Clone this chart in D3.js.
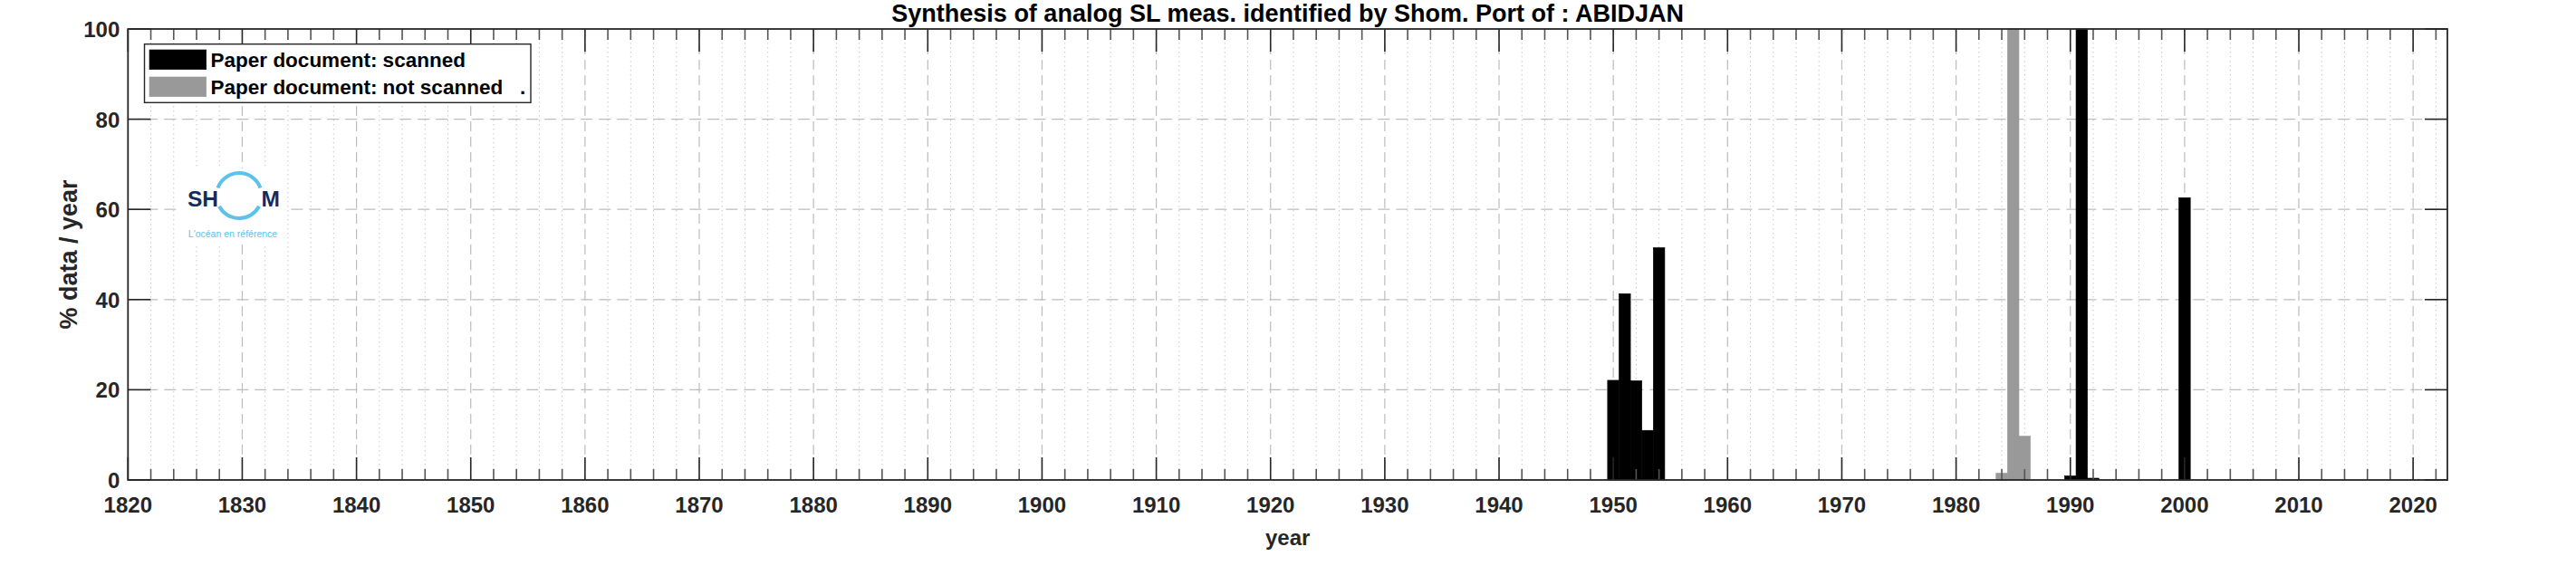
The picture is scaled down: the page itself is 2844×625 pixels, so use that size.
<!DOCTYPE html>
<html>
<head>
<meta charset="utf-8">
<script src="https://cdn.jsdelivr.net/npm/d3@7"></script>
<style>
  html, body { margin: 0; padding: 0; background: #fff; }
  svg { display: block; font-family: "Liberation Sans", Arial, Helvetica, sans-serif; }
</style>
</head>
<body>
<svg id="chart" width="2844" height="625"></svg>
<script>
// ---------------- data ----------------
const titleText = "Synthesis of analog SL meas. identified by Shom. Port of : ABIDJAN";
const xLabel = "year";
const yLabel = "% data / year";
const seriesNames = ["Paper document: scanned", "Paper document: not scanned   ."];
const seriesColors = ["#000000", "#999999"];

const scannedYears  = [1950, 1951, 1952, 1953, 1954, 1990, 1991, 1992, 2000];
const scannedValues = [22.1, 41.3, 22.0, 11.0, 51.5, 0.9, 100, 0.4, 62.6];

const notScannedYears  = [1984, 1985, 1986];
const notScannedValues = [1.5, 100, 9.7];

const xDomain = [1820, 2023];
const yDomain = [0, 100];
const xMajorTicks = [1820, 1830, 1840, 1850, 1860, 1870, 1880, 1890, 1900, 1910, 1920, 1930, 1940, 1950, 1960, 1970, 1980, 1990, 2000, 2010, 2020];
const xMinorTicks = d3.range(1822, 2023, 2).filter(v => v % 10 !== 0);
const yTicks = [0, 20, 40, 60, 80, 100];

const logoWord = ["SH", "M"];
const logoTagline = "L'océan en référence";

// ---------------- layout ----------------
const W = 2844, H = 625;
const L = 141.3, R = 2702, T = 32, B = 530;
const axisColor = "#262626";
const gridColor = "#bdbdbd";
const fontFamily = '"Liberation Sans", Arial, Helvetica, sans-serif';

const svg = d3.select("#chart");
const x = d3.scaleLinear().domain(xDomain).range([L, R]);
const y = d3.scaleLinear().domain(yDomain).range([B, T]);

svg.append("rect").attr("x", 0).attr("y", 0).attr("width", W).attr("height", H).attr("fill", "#fff");

// ---------------- grid ----------------
const grid = svg.append("g");
grid.selectAll("line.minor").data(xMinorTicks).join("line")
  .attr("x1", d => x(d)).attr("x2", d => x(d))
  .attr("y1", T).attr("y2", B)
  .attr("stroke", "#c8c8c8").attr("stroke-width", 1)
  .attr("stroke-dasharray", "1.5,3.5");
grid.selectAll("line.majx").data(xMajorTicks.filter(d => d > xDomain[0])).join("line")
  .attr("x1", d => x(d)).attr("x2", d => x(d))
  .attr("y1", T).attr("y2", B)
  .attr("stroke", gridColor).attr("stroke-width", 1.2)
  .attr("stroke-dasharray", "11,6");
grid.selectAll("line.majy").data(yTicks.filter(d => d > 0 && d < 100)).join("line")
  .attr("x1", L).attr("x2", R)
  .attr("y1", d => y(d)).attr("y2", d => y(d))
  .attr("stroke", gridColor).attr("stroke-width", 1.2)
  .attr("stroke-dasharray", "13,7");

// ---------------- bars ----------------
function drawBars(years, values, color) {
  const data = years.map((yr, i) => ({ yr, v: values[i] }));
  svg.append("g").selectAll("rect").data(data).join("rect")
    .attr("x", d => x(d.yr - 0.5))
    .attr("width", d => x(d.yr + 0.5) - x(d.yr - 0.5))
    .attr("y", d => y(d.v))
    .attr("height", d => y(0) - y(d.v))
    .attr("fill", color)
    .attr("stroke", color).attr("stroke-width", 0.6);
}
drawBars(notScannedYears, notScannedValues, seriesColors[1]);
drawBars(scannedYears, scannedValues, seriesColors[0]);

// ---------------- logo ----------------
const logo = svg.append("g");
logo.append("rect").attr("x", 200).attr("y", 186).attr("width", 114).attr("height", 84).attr("fill", "#fff");
const cx = 264, cy = 216, r = 25;
function arcPath(a0, a1) {
  const p = d3.path();
  p.arc(cx, cy, r, a0 * Math.PI / 180, a1 * Math.PI / 180, false);
  return p.toString();
}
logo.append("path").attr("d", arcPath(200, 340)).attr("fill", "none").attr("stroke", "#5cc2ea").attr("stroke-width", 4);
logo.append("path").attr("d", arcPath(28, 152)).attr("fill", "none").attr("stroke", "#5cc2ea").attr("stroke-width", 4);
logo.append("text").attr("x", 207).attr("y", 227.5).text(logoWord[0])
  .attr("font-family", fontFamily).attr("font-weight", "bold").attr("font-size", 24.5).attr("fill", "#102d5e");
logo.append("text").attr("x", 288.5).attr("y", 227.5).text(logoWord[1])
  .attr("font-family", fontFamily).attr("font-weight", "bold").attr("font-size", 24.5).attr("fill", "#102d5e");
logo.append("text").attr("x", 257).attr("y", 262).attr("text-anchor", "middle").text(logoTagline)
  .attr("font-family", fontFamily).attr("font-size", 10.5).attr("fill", "#5cc2ea");

// ---------------- axes box & ticks ----------------
const ax = svg.append("g").attr("stroke", axisColor).attr("stroke-width", 1.6);
ax.selectAll("line.mb").data(xMinorTicks).join("line")
  .attr("x1", d => x(d)).attr("x2", d => x(d)).attr("y1", B).attr("y2", B - 12)
  .attr("stroke", "#555");
ax.selectAll("line.mt").data(xMinorTicks).join("line")
  .attr("x1", d => x(d)).attr("x2", d => x(d)).attr("y1", T).attr("y2", T + 12)
  .attr("stroke", "#555");
ax.selectAll("line.Mb").data(xMajorTicks).join("line")
  .attr("x1", d => x(d)).attr("x2", d => x(d)).attr("y1", B).attr("y2", B - 25);
ax.selectAll("line.Mt").data(xMajorTicks).join("line")
  .attr("x1", d => x(d)).attr("x2", d => x(d)).attr("y1", T).attr("y2", T + 25);
ax.selectAll("line.yl").data(yTicks).join("line")
  .attr("x1", L).attr("x2", L + 25).attr("y1", d => y(d)).attr("y2", d => y(d));
ax.selectAll("line.yr").data(yTicks).join("line")
  .attr("x1", R).attr("x2", R - 25).attr("y1", d => y(d)).attr("y2", d => y(d));
svg.append("rect").attr("x", L).attr("y", T).attr("width", R - L).attr("height", B - T)
  .attr("fill", "none").attr("stroke", axisColor).attr("stroke-width", 1.8);

// tick labels
svg.append("g").selectAll("text").data(xMajorTicks).join("text")
  .attr("x", d => x(d)).attr("y", 566)
  .attr("text-anchor", "middle")
  .attr("font-family", fontFamily).attr("font-weight", "bold").attr("font-size", 24)
  .attr("fill", axisColor)
  .text(d => d);
svg.append("g").selectAll("text").data(yTicks).join("text")
  .attr("x", L - 9).attr("y", d => y(d) + 9)
  .attr("text-anchor", "end")
  .attr("font-family", fontFamily).attr("font-weight", "bold").attr("font-size", 24)
  .attr("fill", axisColor)
  .text(d => d);

// axis labels
svg.append("text").attr("x", (L + R) / 2).attr("y", 602)
  .attr("text-anchor", "middle")
  .attr("font-family", fontFamily).attr("font-weight", "bold").attr("font-size", 24)
  .attr("fill", axisColor).text(xLabel);
svg.append("text").attr("transform", `translate(85, ${(T + B) / 2}) rotate(-90)`)
  .attr("text-anchor", "middle")
  .attr("font-family", fontFamily).attr("font-weight", "bold").attr("font-size", 27)
  .attr("fill", axisColor).text(yLabel);

// title
svg.append("text").attr("x", (L + R) / 2).attr("y", 24)
  .attr("text-anchor", "middle")
  .attr("font-family", fontFamily).attr("font-weight", "bold").attr("font-size", 27)
  .attr("fill", "#000").text(titleText);

// ---------------- legend ----------------
const lg = svg.append("g");
lg.append("rect").attr("x", 159.5).attr("y", 48.7).attr("width", 426.5).attr("height", 64.6)
  .attr("fill", "#fff").attr("stroke", axisColor).attr("stroke-width", 1.4);
seriesNames.forEach((name, i) => {
  const yy = 55 + i * 30;
  lg.append("rect").attr("x", 165).attr("y", yy).attr("width", 62.7).attr("height", 21.7)
    .attr("fill", seriesColors[i]).attr("stroke", i === 0 ? "#000" : "#999").attr("stroke-width", 0.6);
  lg.append("text").attr("x", 232.6).attr("y", yy + 19)
    .attr("font-family", fontFamily).attr("font-weight", "bold").attr("font-size", 22.5)
    .attr("fill", "#000").style("white-space", "pre").text(name);
});
</script>
</body>
</html>
